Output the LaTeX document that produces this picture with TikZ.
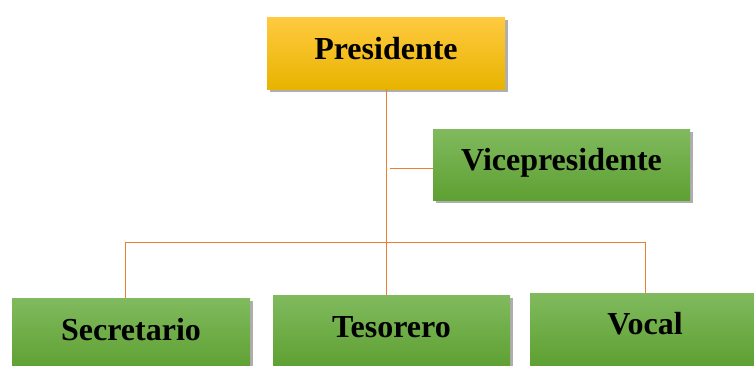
\documentclass[tikz,border=0pt]{standalone}
\usepackage{fontspec}
\setmainfont{Liberation Serif}
\usepackage{xcolor}
\usetikzlibrary{shadows}

\definecolor{goldtop}{RGB}{255,202,64}
\definecolor{goldbot}{RGB}{232,180,0}
\definecolor{greentop}{RGB}{128,186,94}
\definecolor{greenbot}{RGB}{94,160,50}
\definecolor{linkorange}{RGB}{237,125,49}

\tikzset{
  role/.style={rectangle, inner sep=0pt, align=center,
    font=\fontsize{24}{28}\selectfont\bfseries,
    drop shadow={shadow xshift=2.5pt, shadow yshift=-2.5pt, opacity=0.45, fill=black!70}},
  chief/.style={role, top color=goldtop, bottom color=goldbot},
  member/.style={role, top color=greentop, bottom color=greenbot},
  link/.style={draw=linkorange, line width=0.75pt}
}

\begin{document}
\begin{tikzpicture}[x=0.75pt, y=-0.75pt]

\useasboundingbox (0,0) rectangle (754,365);
\clip (0,0) rectangle (754,365);

% =====================
% Top of the chart
% =====================
\node[chief, minimum width=178.5pt, minimum height=54pt, text depth=7.5pt]
    (presidente) at (386,53) {Presidente};

\node[member, minimum width=192.75pt, minimum height=53.25pt, text depth=7.5pt]
    (vice) at (561.5,164.5) {Vicepresidente};

% =====================
% Bottom row (runs off the page)
% =====================
\node[member, minimum width=178.5pt, minimum height=54pt, text depth=7.5pt]
    (secretario) at (131,334) {Secretario};

\node[member, minimum width=177.75pt, minimum height=54pt, text depth=6pt]
    (tesorero) at (391.5,331) {Tesorero};

\node[member, minimum width=172.5pt, minimum height=54pt, text depth=9pt]
    (vocal) at (645,329) {Vocal};

% =====================
% Connectors
% =====================
\coordinate (bar) at (386,242);
\coordinate (vstub) at (390,168);

\draw[link] (presidente.south) -- (presidente.south |- tesorero.north);
\draw[link] (vstub) -- (vstub -| vice.west);
\draw[link] ([xshift=-4.5pt]secretario.north) |- (vocal.north |- bar)
    -- (vocal.north);

\end{tikzpicture}
\end{document}
